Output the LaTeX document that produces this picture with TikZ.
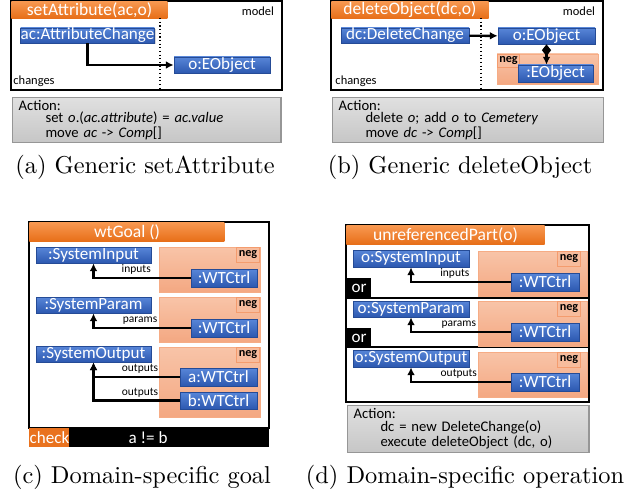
\documentclass[tikz,border=0pt]{standalone}
\usepackage{fontspec}
\usepackage{tikz}
\usetikzlibrary{arrows.meta, shadows, positioning}
\newfontfamily\boxfont{Carlito}
\definecolor{ObjTop}{RGB}{88,134,216}
\definecolor{ObjBottom}{RGB}{44,88,176}
\definecolor{RuleTop}{RGB}{248,152,80}
\definecolor{RuleBottom}{RGB}{231,110,24}
\definecolor{NegTop}{RGB}{248,196,168}
\definecolor{NegBottom}{RGB}{244,168,130}
\definecolor{NegLine}{RGB}{244,156,110}
\definecolor{ActTop}{RGB}{224,224,224}
\definecolor{ActBottom}{RGB}{198,198,198}
\definecolor{ActLine}{RGB}{150,150,150}
\tikzstyle{frame} = [draw=black, line width=0.55pt]
\tikzstyle{link} = [line width=1pt, -{Latex[length=3.2pt,width=3.2pt]}]
\tikzstyle{comp} = [line width=1pt, {Diamond[length=4.8pt,width=3.8pt]}-{Latex[length=3.2pt,width=3.2pt]}]
\tikzstyle{obj} = [draw=ObjBottom!85!black, line width=0.3pt, top color=ObjTop, bottom color=ObjBottom, text=white, inner sep=0pt, font=\boxfont\fontsize{7}{7}\selectfont, drop shadow={opacity=0.3, shadow xshift=0.5pt, shadow yshift=-0.5pt}]
\tikzstyle{rule} = [top color=RuleTop, bottom color=RuleBottom, text=white, inner sep=0pt, font=\boxfont\fontsize{7.2}{7}\selectfont]
\tikzstyle{neg} = [draw=NegLine!60!NegTop, line width=0.4pt, top color=NegTop, bottom color=NegBottom]
\tikzstyle{neglabel} = [draw=NegLine, line width=0.4pt, fill=NegTop!70!NegBottom, inner sep=0pt, font=\boxfont\bfseries\fontsize{5}{5}\selectfont]
\tikzstyle{note} = [inner sep=0pt, font=\boxfont\fontsize{5.1}{5}\selectfont]
\tikzstyle{lbl} = [above, inner sep=0.8pt, font=\boxfont\fontsize{4.7}{5}\selectfont]
\tikzstyle{tag} = [fill=black, text=white, inner sep=0pt, font=\boxfont\fontsize{7}{7}\selectfont]
\tikzstyle{action} = [draw=ActLine, line width=0.5pt, top color=ActTop, bottom color=ActBottom, align=left, inner xsep=2.5pt, inner ysep=0pt, anchor=north west, font=\boxfont\fontsize{6}{5}\selectfont]
\tikzset{box size/.style 2 args={minimum width=#1*0.41pt, minimum height=#2*0.41pt}}

\begin{document}
\begin{tikzpicture}[x=0.41pt, y=-0.41pt]
\useasboundingbox (0,0) rectangle (625,497);

\draw[frame] (11,1) rectangle (282,90);
\node[rule, box size={156}{17}, anchor=north west] (ta) at (11,1) {setAttribute(ac,o)};
\node[note] (ma) at (258,11) {model};
\node[note, anchor=west] (cha) at (13,81) {changes};
\draw[densely dotted, line width=0.5pt] (160,18) -- (160,90);
\node[obj, box size={133}{15}] (ac) at (87.5,35.5) {ac:AttributeChange};
\node[obj, box size={96}{16}] (oa) at (222,65) {o:EObject};
\draw[link] (ac) |- (oa);
\node[action, text width=105pt, minimum height=45*0.41pt] (aa) at (12,97) {Action:\\
\hspace*{11pt}set \textit{o}.(\textit{ac.attribute}) = \textit{ac.value}\\
\hspace*{11pt}move \textit{ac} -> \textit{Comp}[]};
\node[anchor=base] (capa) at (145,173) {(a)~Generic setAttribute};

\draw[frame] (331,1) rectangle (603,90);
\node[rule, box size={157}{17}, anchor=north west] (tb) at (331,1) {deleteObject(dc,o)};
\node[note] (mb) at (579,11) {model};
\node[note, anchor=west] (chb) at (335,81) {changes};
\draw[densely dotted, line width=0.5pt] (481,18) -- (481,90);
\draw[neg] (497,54) rectangle (598,84);
\node[neglabel, box size={22}{13}, anchor=north west] (nb) at (497,54) {neg};
\node[obj, box size={128}{15}] (dc) at (405,35.5) {dc:DeleteChange};
\node[obj, box size={97}{16}] (ob) at (546.5,36) {o:EObject};
\node[obj, box size={75}{17}] (eb) at (555.5,73.5) {:EObject};
\draw[link] (dc) -- (ob);
\draw[comp] (ob.south) -- (ob.south |- eb.north);
\node[action, text width=106pt, minimum height=45*0.41pt] (ab) at (332,97) {Action:\\
\hspace*{11pt}delete \textit{o}; add \textit{o} to \textit{Cemetery}\\
\hspace*{11pt}move \textit{dc} -> \textit{Comp}[]};
\node[anchor=base] (capb) at (460,173) {(b)~Generic deleteObject};

\draw[frame] (29,222) rectangle (269,428);
\node[rule, box size={195}{19}, anchor=north west] (tc) at (29,222) {wtGoal ()};
\draw[neg] (159,247) rectangle (260,292);
\draw[neg] (159,297) rectangle (260,342);
\draw[neg] (159,347) rectangle (260,417);
\foreach \y [count=\i] in {247,297,347}
  \node[neglabel, box size={23}{15}, anchor=north east] (nc\i) at (260,\y) {neg};
\node[obj, box size={115}{16}] (si) at (93.5,255) {:SystemInput};
\node[obj, box size={115}{16}] (sp) at (93.5,305) {:SystemParam};
\node[obj, box size={115}{16}] (so) at (93.5,354) {:SystemOutput};
\node[obj, box size={66}{18}] (wi) at (224,278) {:WTCtrl};
\node[obj, box size={66}{18}] (wp) at (224,328) {:WTCtrl};
\node[obj, box size={77}{18}] (wa) at (218.5,377) {a:WTCtrl};
\node[obj, box size={77}{17}] (wb) at (218.5,400.5) {b:WTCtrl};
\draw[link] (wi) -| node[lbl, pos=0.28] {inputs} (si);
\draw[link] (wp) -| node[lbl, pos=0.26] {params} (sp);
\draw[link] (wa) -| node[lbl, pos=0.23] {outputs} (so);
\draw[link] (wb) -| node[lbl, pos=0.23] {outputs} (so);
\fill[black] (29,428) rectangle (269,447);
\node[tag, fill=RuleBottom!90!RuleTop, box size={40}{19}, anchor=north west] (ck) at (29,428) {check};
\node[tag] (cond) at (148,437.5) {a != b};
\node[anchor=base] (capc) at (142,483) {(c)~Domain-specific goal};

\draw[frame] (346,225) rectangle (589,402);
\draw[frame] (346,298) -- (589,298);
\draw[frame] (346,347) -- (589,347);
\draw[neg] (478,251) rectangle (587,296);
\draw[neg] (478,301) rectangle (587,346);
\draw[neg] (478,352) rectangle (587,397);
\foreach \y [count=\i] in {251,301,352}
  \node[neglabel, box size={23}{15}, anchor=north west] (nd\i) at (557,\y) {neg};
\node[rule, box size={198}{19}, anchor=north west] (td) at (346,225) {unreferencedPart(o)};
\node[obj, box size={116}{17}] (oi) at (411,258.5) {o:SystemInput};
\node[obj, box size={116}{16}] (op) at (411,309) {o:SystemParam};
\node[obj, box size={116}{17}] (oo) at (411,358.5) {o:SystemOutput};
\node[obj, box size={68}{18}] (xi) at (545,282) {:WTCtrl};
\node[obj, box size={68}{18}] (xp) at (545,332) {:WTCtrl};
\node[obj, box size={68}{18}] (xo) at (545,382) {:WTCtrl};
\draw[link] (xi) -| node[lbl, pos=0.28] {inputs} (oi);
\draw[link] (xp) -| node[lbl, pos=0.26] {params} (op);
\draw[link] (xo) -| node[lbl, pos=0.26] {outputs} (oo);
\node[tag, box size={25}{19}, anchor=north west] (or1) at (346,278) {or};
\node[tag, box size={25}{19}, anchor=north west] (or2) at (346,328) {or};
\node[action, text width=94pt, minimum height=47*0.41pt] (ad) at (347,405) {Action:\\
\hspace*{11pt}dc = new DeleteChange(o)\\
\hspace*{11pt}execute deleteObject (dc, o)};
\node[anchor=base] (capd) at (465,483) {(d)~Domain-specific operation};
\end{tikzpicture}
\end{document}
